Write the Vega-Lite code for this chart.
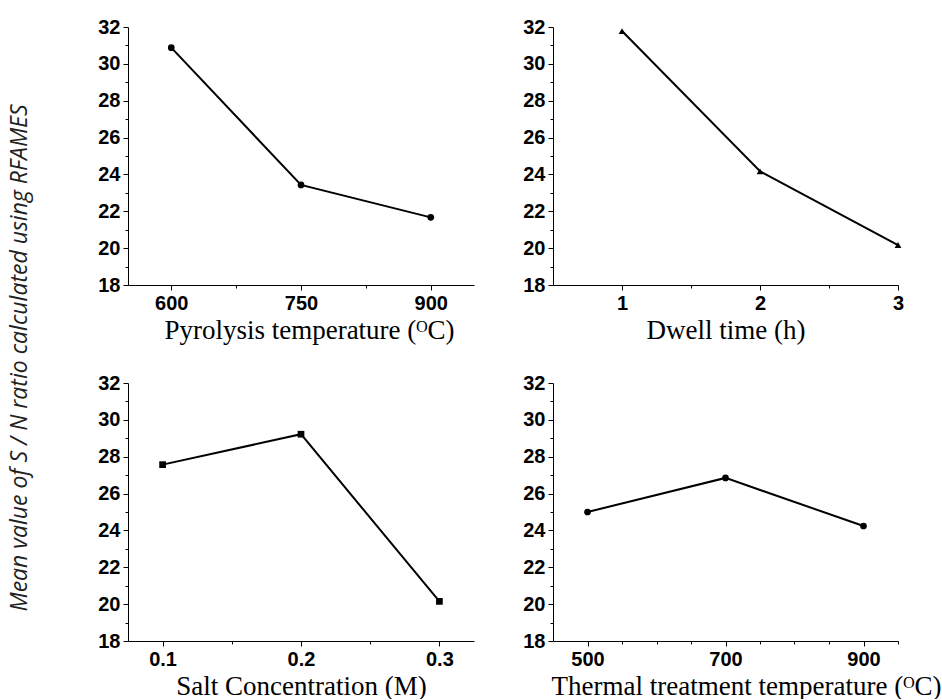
{
  "$schema": "https://vega.github.io/schema/vega-lite/v6.json",
  "background": "white",
  "padding": {"left": 8, "top": 17, "right": 0, "bottom": 0},
  "title": {"text": "Mean value of  S / N ratio calculated using RFAMES", "orient": "left", "anchor": "middle", "font": "Open Sans", "fontStyle": "italic", "fontWeight": "normal", "fontSize": 23, "color": "#222", "offset": 66},
  "config": {
    "view": {"stroke": null},
    "axis": {"domainColor": "#000", "tickColor": "#000", "labelFont": "Liberation Sans", "labelFontWeight": "bold", "labelFontSize": 20, "labelColor": "#000", "titleFont": "Liberation Serif", "titleFontWeight": "normal", "titleFontSize": 27, "titleColor": "#000", "grid": false, "labelOverlap": false, "labelFlush": false, "labelPadding": 3, "titlePadding": 4}
  },
  "datasets": {
    "pyro": [{"x": 600, "y": 30.88}, {"x": 750, "y": 23.43}, {"x": 900, "y": 21.67}],
    "dwell": [{"x": 1, "y": 31.78}, {"x": 2, "y": 24.17}, {"x": 3, "y": 20.17}],
    "salt": [{"x": 0.1, "y": 27.57}, {"x": 0.2, "y": 29.22}, {"x": 0.3, "y": 20.15}],
    "thermal": [{"x": 500, "y": 25.0}, {"x": 700, "y": 26.85}, {"x": 900, "y": 24.24}]
  },
  "spacing": 30,
  "vconcat": [
    {
      "spacing": 48,
      "hconcat": [
        {
          "width": 346, "height": 258,
          "data": {"name": "pyro"},
          "encoding": {
            "x": {"field": "x", "type": "quantitative", "scale": {"domain": [550, 950], "nice": false, "zero": false},
              "axis": {"title": "Pyrolysis temperature (ᴼC)", "titleX": 181, "values": [600, 675, 750, 825, 900], "labelExpr": "(datum.value - 600) % 150 == 0 ? datum.label : ''", "tickSize": {"condition": {"test": "(datum.value - 600) % 150 != 0", "value": 3}, "value": 5}}},
            "y": {"field": "y", "type": "quantitative", "scale": {"domain": [18, 32], "nice": false, "zero": false},
              "axis": {"title": null, "values": [18,19,20,21,22,23,24,25,26,27,28,29,30,31,32], "labelExpr": "datum.value % 2 == 0 ? datum.label : ''", "tickSize": {"condition": {"test": "datum.value % 2 != 0", "value": 3}, "value": 5}}}
          },
          "layer": [
            {"mark": {"type": "line", "color": "black", "strokeWidth": 2}},
            {"mark": {"type": "point", "shape": "circle", "filled": true, "color": "black", "opacity": 1, "size": 45}}
          ]
        },
        {
          "width": 345, "height": 258,
          "data": {"name": "dwell"},
          "encoding": {
            "x": {"field": "x", "type": "quantitative", "scale": {"domain": [0.5, 3], "nice": false, "zero": false},
              "axis": {"title": "Dwell time (h)", "values": [1, 1.5, 2, 2.5, 3], "labelExpr": "datum.value % 1 == 0 ? format(datum.value, 'd') : ''", "tickSize": {"condition": {"test": "datum.value % 1 != 0", "value": 3}, "value": 5}}},
            "y": {"field": "y", "type": "quantitative", "scale": {"domain": [18, 32], "nice": false, "zero": false},
              "axis": {"title": null, "values": [18,19,20,21,22,23,24,25,26,27,28,29,30,31,32], "labelExpr": "datum.value % 2 == 0 ? datum.label : ''", "tickSize": {"condition": {"test": "datum.value % 2 != 0", "value": 3}, "value": 5}}}
          },
          "layer": [
            {"mark": {"type": "line", "color": "black", "strokeWidth": 2}},
            {"mark": {"type": "point", "shape": "triangle-up", "filled": true, "color": "black", "opacity": 1, "size": 45}}
          ]
        }
      ]
    },
    {
      "spacing": 48,
      "hconcat": [
        {
          "width": 346, "height": 258,
          "data": {"name": "salt"},
          "encoding": {
            "x": {"field": "x", "type": "quantitative", "scale": {"domain": [0.075, 0.325], "nice": false, "zero": false},
              "axis": {"title": "Salt Concentration (M)", "values": [0.1, 0.15, 0.2, 0.25, 0.3], "labelExpr": "abs(datum.value * 10 - round(datum.value * 10)) < 0.01 ? format(datum.value, '.1f') : ''", "tickSize": {"condition": {"test": "abs(datum.value * 10 - round(datum.value * 10)) > 0.01", "value": 3}, "value": 5}}},
            "y": {"field": "y", "type": "quantitative", "scale": {"domain": [18, 32], "nice": false, "zero": false},
              "axis": {"title": null, "values": [18,19,20,21,22,23,24,25,26,27,28,29,30,31,32], "labelExpr": "datum.value % 2 == 0 ? datum.label : ''", "tickSize": {"condition": {"test": "datum.value % 2 != 0", "value": 3}, "value": 5}}}
          },
          "layer": [
            {"mark": {"type": "line", "color": "black", "strokeWidth": 2}},
            {"mark": {"type": "point", "shape": "square", "filled": true, "color": "black", "opacity": 1, "size": 45}}
          ]
        },
        {
          "width": 345, "height": 258,
          "data": {"name": "thermal"},
          "encoding": {
            "x": {"field": "x", "type": "quantitative", "scale": {"domain": [450, 950], "nice": false, "zero": false},
              "axis": {"title": "Thermal treatment temperature (ᴼC)", "titleX": 193, "values": [500, 550, 600, 650, 700, 750, 800, 850, 900, 950], "labelExpr": "(datum.value - 500) % 200 == 0 ? datum.label : ''", "tickSize": {"condition": {"test": "(datum.value - 500) % 200 != 0", "value": 3}, "value": 5}}},
            "y": {"field": "y", "type": "quantitative", "scale": {"domain": [18, 32], "nice": false, "zero": false},
              "axis": {"title": null, "values": [18,19,20,21,22,23,24,25,26,27,28,29,30,31,32], "labelExpr": "datum.value % 2 == 0 ? datum.label : ''", "tickSize": {"condition": {"test": "datum.value % 2 != 0", "value": 3}, "value": 5}}}
          },
          "layer": [
            {"mark": {"type": "line", "color": "black", "strokeWidth": 2}},
            {"mark": {"type": "point", "shape": "circle", "filled": true, "color": "black", "opacity": 1, "size": 45}}
          ]
        }
      ]
    }
  ]
}
